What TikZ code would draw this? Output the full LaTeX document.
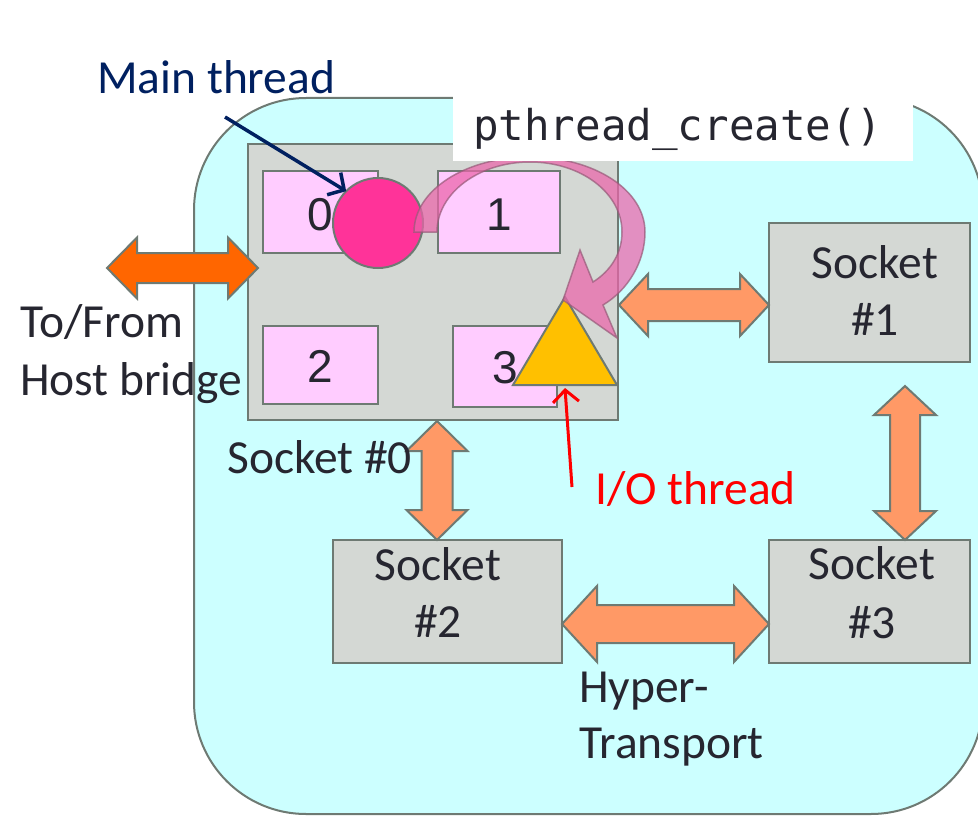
\documentclass[tikz,border=0pt]{standalone}
\usepackage{fontspec}
\setmainfont{Carlito}
\newfontfamily\arialf{Liberation Sans}
\newfontfamily\monof{DejaVu Sans Mono}
\usetikzlibrary{arrows.meta,calc}
\definecolor{cyanbg}{RGB}{204,255,255}
\definecolor{edgegray}{RGB}{110,122,115}
\definecolor{sockfill}{RGB}{212,216,212}
\definecolor{corepink}{RGB}{255,204,255}
\definecolor{mainpink}{RGB}{255,51,153}
\definecolor{ioyellow}{RGB}{255,192,0}
\definecolor{linkorange}{RGB}{255,153,102}
\definecolor{hostorange}{RGB}{255,102,0}
\definecolor{navyblue}{RGB}{0,32,96}
\definecolor{txt}{RGB}{38,38,48}
\definecolor{curvepink}{RGB}{235,100,170}
\definecolor{curveedge}{RGB}{150,90,120}
% horizontal double block arrow: style, left tip, right tip, shaft half, head half, head length
\newcommand\harrow[6]{%
  \filldraw[#1] let \p1=(#2), \p2=(#3) in
    (\x1,\y1) -- (\x1+#6pt,\y1+#5pt) -- (\x1+#6pt,\y1+#4pt) -- (\x2-#6pt,\y1+#4pt)
    -- (\x2-#6pt,\y1+#5pt) -- (\x2,\y1) -- (\x2-#6pt,\y1-#5pt) -- (\x2-#6pt,\y1-#4pt)
    -- (\x1+#6pt,\y1-#4pt) -- (\x1+#6pt,\y1-#5pt) -- cycle;}
% vertical double block arrow: style, top tip, bottom tip, shaft half, head half, head length
\newcommand\varrow[6]{%
  \filldraw[#1] let \p1=(#2), \p2=(#3) in
    (\x1,\y1) -- (\x1+#5pt,\y1-#6pt) -- (\x1+#4pt,\y1-#6pt) -- (\x1+#4pt,\y2+#6pt)
    -- (\x1+#5pt,\y2+#6pt) -- (\x1,\y2) -- (\x1-#5pt,\y2+#6pt) -- (\x1-#4pt,\y2+#6pt)
    -- (\x1-#4pt,\y1-#6pt) -- (\x1-#5pt,\y1-#6pt) -- cycle;}
\begin{document}
\begin{tikzpicture}[x=1pt,y=-1pt,
  sockbox/.style={draw=edgegray,line width=2pt,fill=sockfill,inner sep=0,outer sep=0},
  corebox/.style={draw=edgegray,line width=2pt,fill=corepink,inner sep=0,outer sep=0},
  lbl/.style={font=\fontsize{47.5}{57}\selectfont,text=txt,inner sep=0},
  digit/.style={font=\arialf\fontsize{46}{50}\selectfont,text=txt,inner sep=0},
  linkarrow/.style={fill=linkorange,draw=edgegray,line width=2pt,line join=miter},
  hostarrow/.style={fill=hostorange,draw=edgegray,line width=2pt,line join=miter},
  pointer/.style={line width=3.5pt,-{Straight Barb[length=12pt,width=26pt]}}]
\useasboundingbox (0,0) rectangle (978,816);
% board
\draw[draw=edgegray,line width=2pt,fill=cyanbg,rounded corners=112pt] (194,98) rectangle (983,814);
% sockets
\node[sockbox,minimum width=370pt,minimum height=276pt] (s0) at (433,282) {};
\node[sockbox,minimum width=201pt,minimum height=139pt] (s1) at (869.5,292.5) {};
\node[sockbox,minimum width=229pt,minimum height=123pt] (s2) at (447.5,601.5) {};
\node[sockbox,minimum width=201pt,minimum height=123pt] (s3) at (869.5,601.5) {};
% cores
\node[corebox,minimum width=115pt,minimum height=82pt] (c0) at (320.5,212) {};
\node[corebox,minimum width=122pt,minimum height=82pt] (c1) at (499,212) {};
\node[corebox,minimum width=115pt,minimum height=78pt] (c2) at (320.5,365) {};
\node[corebox,minimum width=104pt,minimum height=81pt] (c3) at (505,366.5) {};
\node[digit,anchor=base] (d0) at (320.5,230) {0};
\node[digit,anchor=base] (d1) at (499,230) {1};
\node[digit,anchor=base] (d2) at (320.5,382) {2};
\node[digit,anchor=base] (d3) at (505,383) {3};
% main thread circle
\node[circle,draw=edgegray,line width=2pt,fill=mainpink,minimum size=90pt,inner sep=0,outer sep=0] (circ) at (378,223) {};
% I/O thread triangle
\filldraw[draw=edgegray,line width=2pt,fill=ioyellow,line join=miter] (565,297) -- (617,385) -- (513,385) -- cycle;
\coordinate (tribase) at (565,388);
% curved pthread_create arrow
\filldraw[fill=curvepink,fill opacity=0.72,draw=curveedge,draw opacity=0.7,line width=1.5pt]
  (414,232) .. controls (414,190) and (466,157) .. (530,157)
  .. controls (594,157) and (645,190) .. (645,232)
  .. controls (645,262) and (628,290) .. (603,305)
  -- (617,338) -- (563,300) -- (580,250) -- (593,282)
  .. controls (612,270) and (622,252) .. (622,232)
  .. controls (622,193) and (581,162) .. (530,162)
  .. controls (479,162) and (437,193) .. (437,232) -- cycle;
% pthread_create label
\node[fill=white,inner sep=0,outer sep=0,minimum width=460pt,minimum height=71pt,anchor=north west] (ptbox) at (453,90) {};
\node[anchor=base west,font=\monof\fontsize{42.5}{50}\selectfont,text=txt,inner sep=0] (pt) at (473,140) {pthread\_create()};
% block arrows
\coordinate (hostL) at (107,268);
\coordinate (hostR) at ([xshift=10pt,yshift=14pt]s0.west);
\harrow{hostarrow}{hostL}{hostR}{15}{30.5}{30}
\coordinate (h01l) at ([xshift=1pt,yshift=-23pt]s0.east);
\coordinate (h01r) at (h01l -| s1.west);
\harrow{linkarrow}{h01l}{h01r}{16}{31}{29}
\coordinate (h23l) at ([yshift=-22.5pt]s2.east);
\coordinate (h23r) at (h23l -| s3.west);
\harrow{linkarrow}{h23l}{h23r}{19}{38}{35}
\coordinate (v02t) at ([xshift=4pt,yshift=-1pt]s0.south);
\coordinate (v02b) at (v02t |- s2.north);
\varrow{linkarrow}{v02t}{v02b}{15.5}{30.5}{30}
\coordinate (v13t) at ([xshift=35.5pt,yshift=-24pt]s1.south);
\coordinate (v13b) at (v13t |- s3.north);
\varrow{linkarrow}{v13t}{v13b}{15}{31}{29}
% labels
\node[lbl,anchor=base west,text=navyblue] (mt) at (97,93) {Main thread};
\coordinate (mtstart) at (225,117);
\draw[pointer,navyblue] (mtstart) -- (circ.north west);
\node[lbl,anchor=base west,text=red] (io) at (595,504) {I/O thread};
\coordinate (iostart) at (572,487);
\draw[pointer,red,line width=3pt] (iostart) -- (tribase);
\node[lbl,anchor=base west] (tf1) at (20,337) {To/From};
\node[lbl,anchor=base west] (tf2) at (20,395) {Host bridge};
\node[lbl,anchor=base west] (s0l) at (227,473) {Socket \#0};
\node[lbl,anchor=base] (s1a) at (875,278) {Socket};
\node[lbl,anchor=base] (s1b) at (875,335) {\#1};
\node[lbl,anchor=base] (s2a) at (438,580) {Socket};
\node[lbl,anchor=base] (s2b) at (438,637) {\#2};
\node[lbl,anchor=base] (s3a) at (872,579) {Socket};
\node[lbl,anchor=base] (s3b) at (872,638) {\#3};
\node[lbl,anchor=base west] (ht1) at (579,702) {Hyper-};
\node[lbl,anchor=base west] (ht2) at (579,758) {Transport};
\end{tikzpicture}
\end{document}
